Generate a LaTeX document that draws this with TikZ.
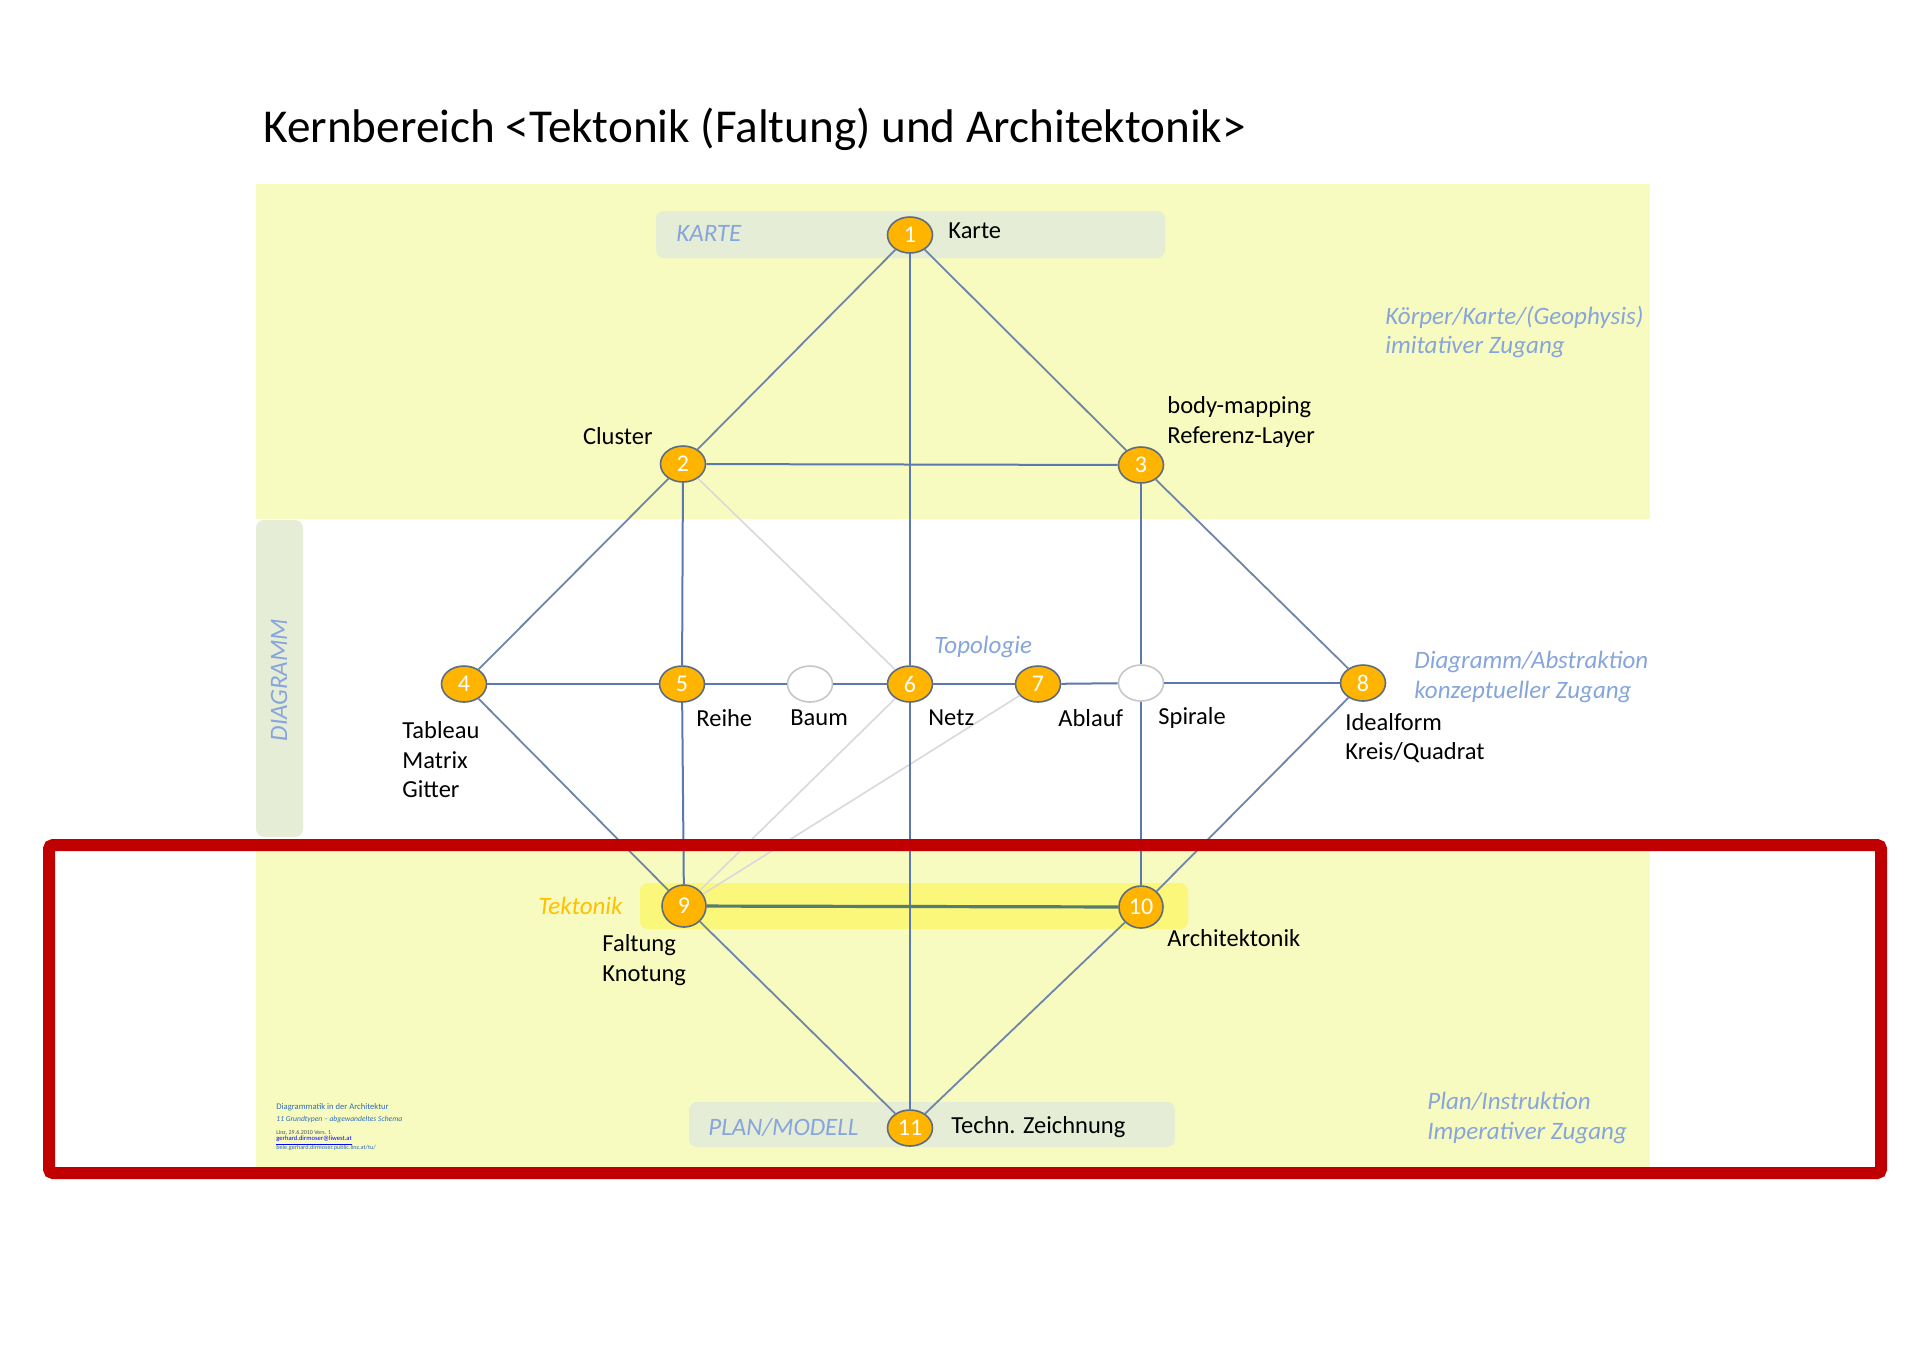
\documentclass[tikz,border=0pt]{standalone}
\usepackage{fontspec}
\setmainfont{Carlito}
\usetikzlibrary{shapes.geometric}
\definecolor{bandyellow}{HTML}{F7FBC0}
\definecolor{bandgreen}{HTML}{E5EDD6}
\definecolor{tekyellow}{HTML}{FAF77A}
\definecolor{nodeorange}{HTML}{FFB400}
\definecolor{nodeborder}{HTML}{5D6D7E}
\definecolor{edgeblue}{HTML}{5B79B0}
\definecolor{edgegray}{HTML}{6E85A8}
\definecolor{faintgray}{HTML}{D9D9D9}
\definecolor{zoneblue}{HTML}{86A5DC}
\definecolor{tekorange}{HTML}{FFC000}
\definecolor{framered}{HTML}{C00000}
\definecolor{footblue}{HTML}{2E6DB5}
\tikzset{
  num/.style={ellipse, draw=nodeborder, line width=0.8pt, fill=nodeorange,
    minimum width=22.5pt, minimum height=18pt, inner sep=0pt, text=white,
    font=\fontsize{12}{14}\selectfont},
  blank/.style={num, fill=white, draw=faintgray!80!gray},
  roundnum/.style={num, minimum width=22pt, minimum height=21pt},
  lbl/.style={anchor=west, inner sep=0pt, align=left, font=\fontsize{12.25}{14.75}\selectfont},
  zone/.style={lbl, text=zoneblue, font=\fontsize{12.5}{14.75}\selectfont\itshape},
  mainedge/.style={draw=edgeblue, line width=1pt},
  diagedge/.style={draw=edgegray, line width=0.9pt},
  faintedge/.style={draw=faintgray, line width=0.8pt},
  strongedge/.style={draw=nodeborder!90!green, line width=1.6pt},
  band/.style={fill=bandgreen, rounded corners=4pt},
  foot/.style={anchor=west, inner sep=0pt, text=footblue}
}
\begin{document}
\begin{tikzpicture}[x=0.5pt,y=-0.5pt]
\useasboundingbox (0,0) rectangle (1920,1357);
\fill[white] (0,0) rectangle (1920,1357);
% background zones
\fill[bandyellow] (256,184) rectangle (1650,519);
\fill[bandyellow] (256,845) rectangle (1650,1170);
\path[band] (656,211) rectangle (1165,258);
\path[band] (689,1102) rectangle (1175,1147);
\path[band] (256,520) rectangle (303,837);
\path[fill=tekyellow, rounded corners=4pt] (640,883) rectangle (1188,929);

% title
\node[lbl, font=\fontsize{23.6}{28}\selectfont] (title) at (263,129) {Kernbereich <Tektonik (Faltung) und Architektonik>};

% nodes
\node[num] (n1) at (910,235) {1};
\node[num] (n2) at (683,464) {2};
\node[num] (n3) at (1141,465) {3};
\node[num] (n4) at (464,684) {4};
\node[num] (n5) at (682,684) {5};
\node[blank] (nB) at (810,684) {};
\node[num] (n6) at (910,684) {6};
\node[num] (n7) at (1038,684) {7};
\node[blank] (nS) at (1141,683) {};
\node[num] (n8) at (1363,683) {8};
\node[roundnum] (n9) at (684,906) {9};
\node[roundnum] (n10) at (1141,907) {10};
\node[num] (n11) at (910,1128) {11};

% edges
\draw[faintedge] (n2) -- (n6);
\draw[faintedge] (n6) -- (n9);
\draw[faintedge] (n7) -- (n9);
\draw[diagedge] (n1) -- (n2);
\draw[diagedge] (n1) -- (n3);
\draw[mainedge] (n1) -- (n6);
\draw[mainedge] (n2) -- (n3);
\draw[diagedge] (n2) -- (n4);
\draw[mainedge] (n2) -- (n5);
\draw[mainedge] (n3) -- (nS);
\draw[diagedge] (n3) -- (n8);
\draw[mainedge] (n4) -- (n5);
\draw[mainedge] (n5) -- (nB);
\draw[mainedge] (nB) -- (n6);
\draw[mainedge] (n6) -- (n7);
\draw[mainedge] (n7) -- (nS);
\draw[mainedge] (nS) -- (n8);
\draw[diagedge] (n4) -- (n9);
\draw[mainedge] (n5) -- (n9);
\draw[mainedge] (n6) -- (n11);
\draw[mainedge] (nS) -- (n10);
\draw[diagedge] (n8) -- (n10);
\draw[strongedge] (n9) -- (n10);
\draw[diagedge] (n9) -- (n11);
\draw[diagedge] (n10) -- (n11);

% node labels
\node[lbl] (lKarte) at (948,231) {Karte};
\node[lbl, anchor=east] (lCluster) at (653,436) {Cluster};
\node[lbl] (lBody) at (1167,422) {body-mapping\\Referenz-Layer};
\node[lbl] (lTableau) at (402,760) {Tableau\\Matrix\\Gitter};
\node[lbl] (lReihe) at (696,718) {Reihe};
\node[lbl] (lBaum) at (790,718) {Baum};
\node[lbl] (lNetz) at (928,718) {Netz};
\node[lbl] (lAblauf) at (1058,718) {Ablauf};
\node[lbl] (lSpirale) at (1158,718) {Spirale};
\node[lbl] (lIdeal) at (1345,738) {Idealform\\Kreis/Quadrat};
\node[lbl] (lFaltung) at (602,960) {Faltung\\Knotung};
\node[lbl] (lArchi) at (1167,938) {Architektonik};
\node[lbl] (lTechn) at (951,1127) {Techn. Zeichnung};

% zone labels
\node[zone] (zTopo) at (934,647) {Topologie};
\node[zone, text=tekorange] (zTek) at (538,906) {Tektonik};
\node[zone] (zKarte) at (676,233) {KARTE};
\node[zone] (zPlan) at (708,1127) {PLAN/MODELL};
\node[zone, anchor=center, rotate=90] (zDia) at (279,680) {DIAGRAMM};
\node[zone] (zKoerper) at (1385,332) {Körper/Karte/(Geophysis)\\imitativer Zugang};
\node[zone] (zDiag) at (1414,677) {Diagramm/Abstraktion\\konzeptueller Zugang};
\node[zone] (zPlanI) at (1427,1118) {Plan/Instruktion\\Imperativer Zugang};

% footer
\node[foot, font=\fontsize{4.3}{5}\selectfont] (f1) at (276,1107) {Diagrammatik in der Architektur};
\node[foot, font=\fontsize{3.8}{4.5}\selectfont\itshape] (f2) at (276,1119) {11 Grundtypen – abgewandeltes Schema};
\node[foot, text=black!70, font=\fontsize{3}{3.5}\selectfont] (f3) at (276,1133) {Linz, 29.6.2010 Vers. 1};
\node[foot, text=blue, font=\fontsize{3.3}{3.8}\selectfont] (f4) at (276,1141) {\underline{gerhard.dirmoser@liwest.at}};
\node[foot, font=\fontsize{3.1}{3.6}\selectfont] (f5) at (276,1148) {bele.gerhard.dirmoser.public.linz.at/tu/};

% red frame
\draw[framered, line width=6pt, rounded corners=2pt] (49,845) rectangle (1881,1173);
\end{tikzpicture}
\end{document}
